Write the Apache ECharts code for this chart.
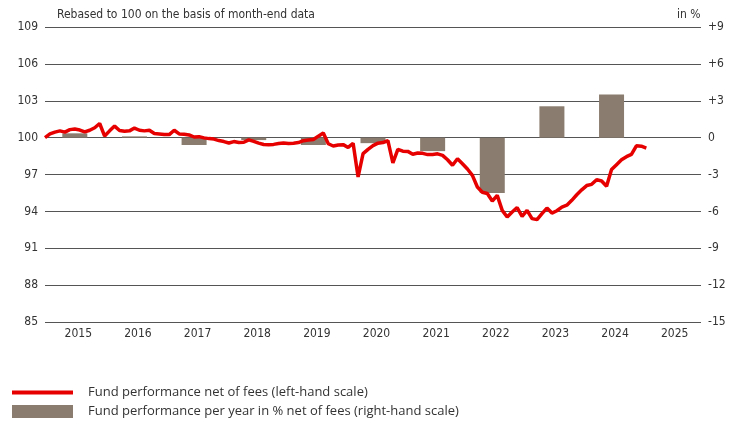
<!DOCTYPE html>
<html>
<head>
<meta charset="utf-8">
<script src="https://cdn.jsdelivr.net/npm/echarts@6/dist/echarts.min.js"></script>
<style>
  html, body { margin: 0; padding: 0; background: #fff; }
  #chart { width: 742px; height: 425px; }
</style>
</head>
<body>
<div id="chart"></div>
<script>
  // month-end index, Dec 2014 = 100 (one value per month)
  const fundIndex = [
    100.0, 100.3, 100.45, 100.55, 100.45, 100.65, 100.7, 100.62, 100.46, 100.6, 100.8, 101.15,
    100.13, 100.55, 100.94, 100.58, 100.52, 100.55, 100.78, 100.6, 100.55, 100.6, 100.33, 100.3,
    100.25, 100.25, 100.6, 100.3, 100.28, 100.22, 100.05, 100.08, 99.98, 99.92, 99.88, 99.76,
    99.68, 99.56, 99.68, 99.6, 99.62, 99.82, 99.7, 99.55, 99.44, 99.43, 99.45, 99.52,
    99.56, 99.52, 99.55, 99.6, 99.75, 99.8, 99.85, 100.12, 100.37, 99.5, 99.32, 99.4,
    99.43, 99.2, 99.54, 96.8, 98.7, 99.05, 99.35, 99.55, 99.6, 99.76, 97.95, 99.05,
    98.9, 98.88, 98.65, 98.75, 98.72, 98.62, 98.63, 98.68, 98.56, 98.2, 97.75, 98.28,
    97.88, 97.45, 96.93, 95.98, 95.55, 95.45, 94.84, 95.3, 94.08, 93.54, 93.95, 94.3,
    93.6, 94.08, 93.41, 93.33, 93.82, 94.27, 93.86, 94.05, 94.35, 94.5, 94.9, 95.35,
    95.75, 96.1, 96.2, 96.58, 96.47, 96.04, 97.4, 97.8, 98.2, 98.45, 98.64, 99.33,
    99.3, 99.15
  ];
  const years = ['2015', '2016', '2017', '2018', '2019', '2020', '2021', '2022', '2023', '2024', '2025'];
  // calendar-year performance in %, 2015..2024
  const yearlyPerf = [0.35, 0.1, -0.6, -0.2, -0.6, -0.45, -1.1, -4.5, 2.55, 3.5];
  const leftTicks = [85, 109, 3];
  const rightTicks = [-15, 9, 3];

  const lineName = 'Fund performance net of fees (left-hand scale)';
  const barName = 'Fund performance per year in % net of fees (right-hand scale)';
  const textColor = '#333';
  const font = '"Liberation Sans Narrow", "DejaVu Sans Condensed", "Noto Sans", sans-serif';

  const chart = echarts.init(document.getElementById('chart'));
  chart.setOption({
    animation: false,
    title: [
      {
        text: 'Rebased to 100 on the basis of month-end data',
        left: 57, top: 9, padding: 0,
        textStyle: { fontSize: 12, fontWeight: 'normal', color: textColor, fontFamily: font }
      },
      {
        text: 'in %',
        left: 677, top: 9, padding: 0,
        textStyle: { fontSize: 12, fontWeight: 'normal', color: textColor, fontFamily: font }
      }
    ],
    legend: [
      {
        data: [{ name: lineName, icon: 'rect' }],
        left: 12, top: 386, padding: 0,
        itemWidth: 61, itemHeight: 4, itemGap: 0,
        textStyle: { fontSize: 13, color: textColor, fontFamily: '"Open Sans", sans-serif', padding: [0, 0, 0, 10] }
      },
      {
        data: [{ name: barName, icon: 'rect' }],
        left: 12, top: 405, padding: 0,
        itemWidth: 61, itemHeight: 13, itemGap: 0,
        textStyle: { fontSize: 13, color: textColor, fontFamily: '"Open Sans", sans-serif', padding: [0, 0, 0, 10] }
      }
    ],
    grid: { left: 45, right: 41, top: 27, height: 295 },
    xAxis: [
      {
        type: 'value',
        min: 0, max: years.length * 12,
        show: false
      },
      {
        type: 'category',
        data: years,
        boundaryGap: true,
        position: 'bottom',
        axisLine: { show: false },
        axisTick: { show: false },
        axisLabel: { color: textColor, fontSize: 12, fontFamily: font, margin: 6, padding: [0, 0, 0, 7] }
      }
    ],
    yAxis: [
      {
        type: 'value',
        min: leftTicks[0], max: leftTicks[1], interval: leftTicks[2],
        axisLine: { show: false },
        axisTick: { show: false },
        axisLabel: { color: textColor, fontSize: 12, fontFamily: font, margin: 7 },
        splitLine: { lineStyle: { color: '#555', width: 1 } }
      },
      {
        type: 'value',
        min: rightTicks[0], max: rightTicks[1], interval: rightTicks[2],
        axisLine: { show: false },
        axisTick: { show: false },
        splitLine: { show: false },
        axisLabel: {
          color: textColor, fontSize: 12, fontFamily: font, margin: 7,
          formatter: v => (v > 0 ? '+' + v : String(v))
        }
      }
    ],
    series: [
      {
        name: barName,
        type: 'bar',
        xAxisIndex: 0,
        yAxisIndex: 1,
        barWidth: 25,
        itemStyle: { color: '#8a7c6e' },
        data: yearlyPerf.map((v, i) => [i * 12 + 6, v])
      },
      {
        name: lineName,
        type: 'line',
        xAxisIndex: 0,
        yAxisIndex: 0,
        showSymbol: false,
        lineStyle: { color: '#e60000', width: 3.5 },
        itemStyle: { color: '#e60000' },
        data: fundIndex.map((v, i) => [i, v])
      }
    ]
  });
</script>
</body>
</html>
